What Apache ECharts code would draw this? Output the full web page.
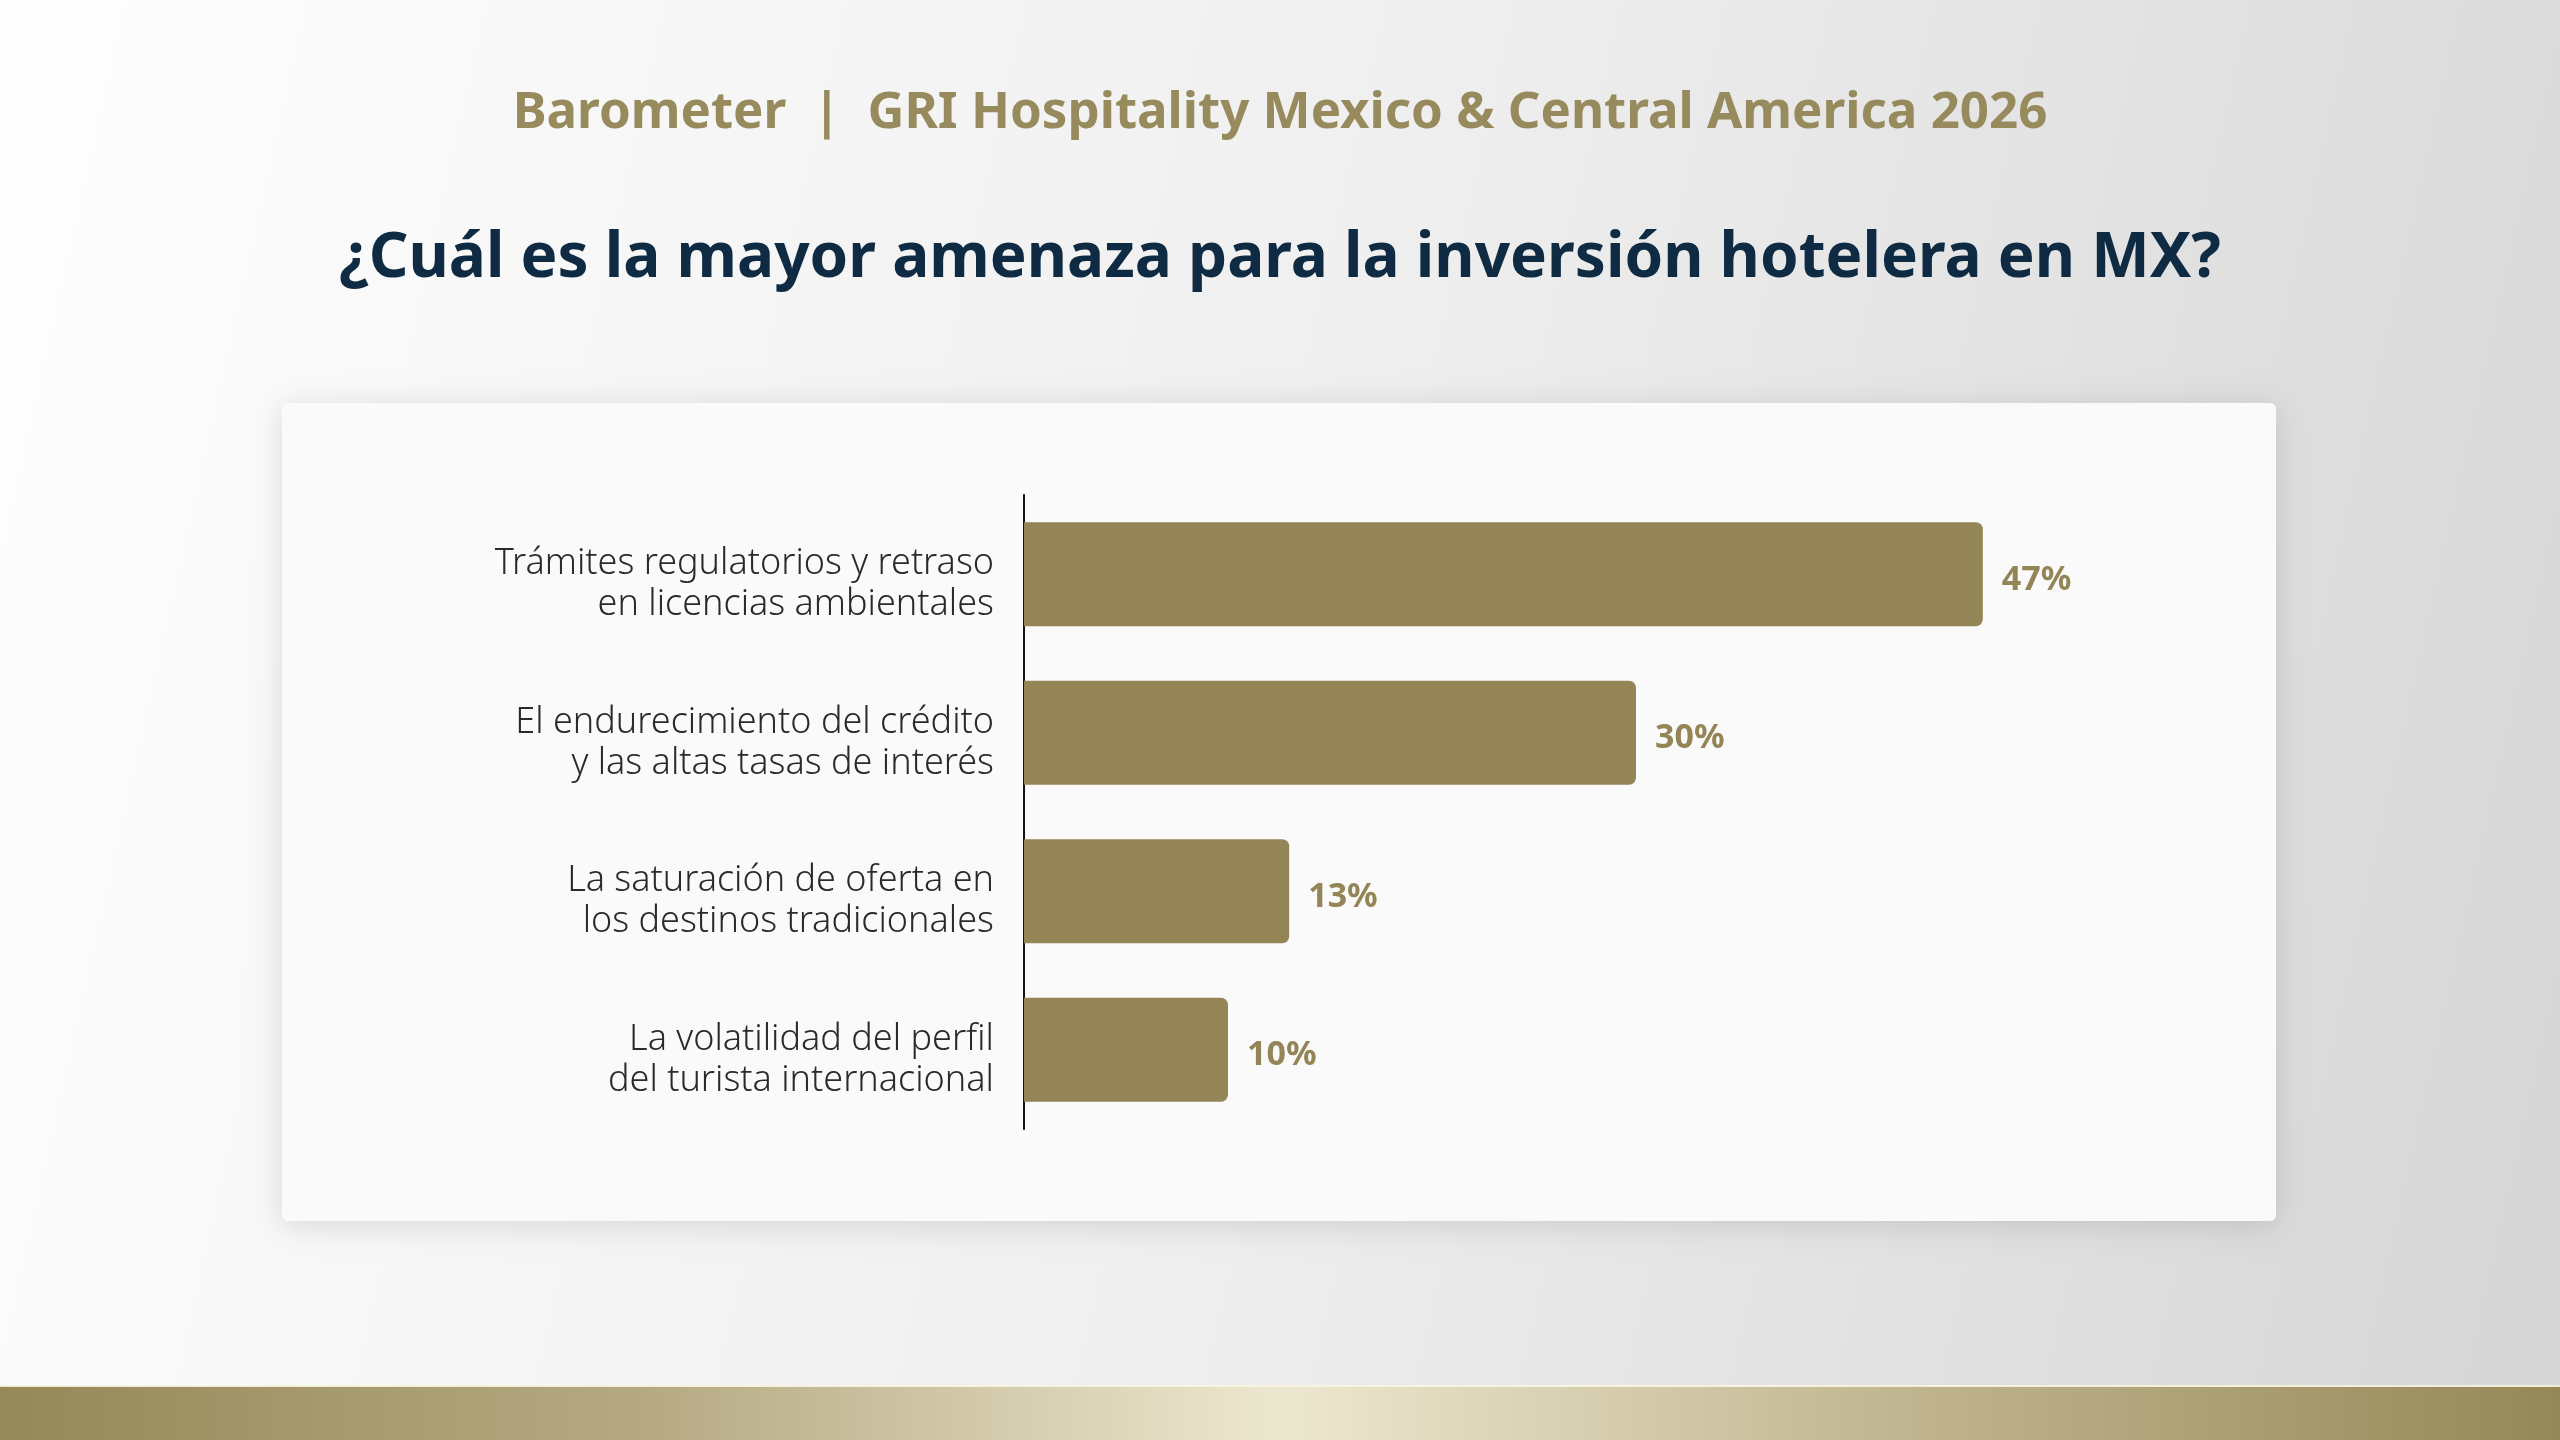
<!DOCTYPE html>
<html>
<head>
<meta charset="utf-8">
<script src="https://cdn.jsdelivr.net/npm/echarts@6/dist/echarts.min.js"></script>
<style>
html,body{margin:0;padding:0;width:2560px;height:1440px;overflow:hidden;}
#c{width:2560px;height:1440px;}
</style>
</head>
<body>
<div id="c"></div>
<script>
const headerText = 'Barometer  |  GRI Hospitality Mexico & Central America 2026';
const questionText = '¿Cuál es la mayor amenaza para la inversión hotelera en MX?';
const categories = [
  'Trámites regulatorios y retraso\nen licencias ambientales',
  'El endurecimiento del crédito\ny las altas tasas de interés',
  'La saturación de oferta en\nlos destinos tradicionales',
  'La volatilidad del perfil\ndel turista internacional'
];
const values = [47, 30, 13, 10];

const GOLD = '#948557';
const NAVY = '#0E2B43';
const FONT = '"Noto Sans", "Open Sans", sans-serif';

const chart = echarts.init(document.getElementById('c'), null, {renderer: 'canvas'});
chart.setOption({
  animation: false,
  graphic: [
    {type: 'rect', z: -10, shape: {x: 0, y: 0, width: 2560, height: 1440},
     style: {fill: new echarts.graphic.LinearGradient(0, 0.3, 1, 0.7, [
       {offset: 0, color: '#FDFDFD'}, {offset: 0.5, color: '#EFEFEF'}, {offset: 1, color: '#D7D7D7'}])}},
    {type: 'rect', z: -9, shape: {x: 0, y: 1386, width: 2560, height: 54},
     style: {fill: new echarts.graphic.LinearGradient(0, 0, 1, 0, [
       {offset: 0, color: '#958959'}, {offset: 0.25, color: '#B5A982'},
       {offset: 0.5, color: '#ECE7CF'}, {offset: 0.75, color: '#BFB48E'}, {offset: 1, color: '#958858'}])}},
    {type: 'rect', z: -9, shape: {x: 0, y: 1385, width: 2560, height: 2},
     style: {fill: 'rgba(250,245,225,0.9)'}},
    {type: 'rect', z: -8, shape: {x: 282, y: 403, width: 1994, height: 818, r: 6},
     style: {fill: '#FAFAFA', shadowBlur: 30, shadowColor: 'rgba(0,0,0,0.13)', shadowOffsetY: 4}},
    {type: 'text', z: 5, x: 1280, y: 113,
     style: {text: headerText, fill: '#978A5C', font: 'bold 51px ' + FONT, textAlign: 'center', textVerticalAlign: 'middle'}},
    {type: 'text', z: 5, x: 1280, y: 259,
     style: {text: questionText, fill: NAVY, font: 'bold 62px ' + FONT, textAlign: 'center', textVerticalAlign: 'middle'}}
  ],
  grid: {left: 1024, right: 516, top: 495, bottom: 311, containLabel: false},
  xAxis: {type: 'value', min: 0, max: 50, show: false, splitLine: {show: false}},
  yAxis: {
    type: 'category', data: categories, inverse: true,
    axisLine: {show: true, lineStyle: {color: '#111', width: 2}},
    axisTick: {show: false},
    axisLabel: {margin: 30, fontSize: 36, lineHeight: 41, color: '#2A2A2A', fontFamily: FONT,
                fontWeight: 300, align: 'right',
                formatter: v => '{s| }\n' + v,
                rich: {s: {fontSize: 4, lineHeight: 20}}}
  },
  series: [{
    type: 'bar', data: values, barWidth: 104,
    itemStyle: {color: GOLD, borderRadius: [0, 7, 7, 0]},
    label: {show: true, position: 'right', distance: 19,
            formatter: p => '{s| }\n' + p.value + '%',
            rich: {s: {fontSize: 4, lineHeight: 12}},
            fontSize: 34, lineHeight: 40, fontWeight: 'bold', color: GOLD, fontFamily: FONT}
  }]
});
</script>
</body>
</html>
